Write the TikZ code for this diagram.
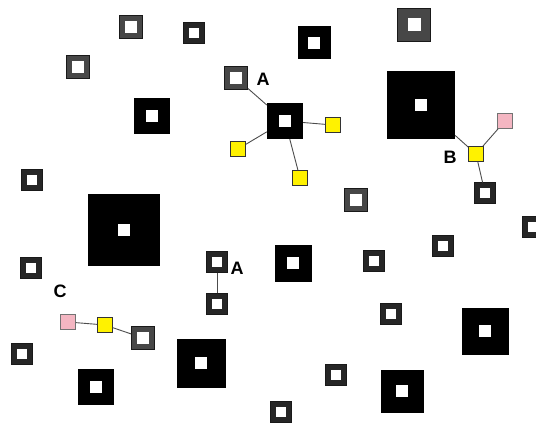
\documentclass[tikz,border=0pt]{standalone}
\usepackage{fontspec}
\setmainfont{Liberation Sans}
\usepackage{tikz}
\definecolor{rosy}{RGB}{244,182,194}

\begin{document}
\begin{tikzpicture}[x=1pt,y=-1pt,
  hole/.style={path picture={\fill[white]
    ([shift={(-#1,-#1)}]path picture bounding box.center) rectangle
    ([shift={(#1,#1)}]path picture bounding box.center);}},
  cell/.style={rectangle,inner sep=0pt,minimum size=#1,fill=black,hole=6pt},
  dcell/.style={rectangle,inner sep=0pt,minimum size=20.5pt,fill=black!85,
    draw=black!90,line width=0.6pt,hole=5pt},
  gcell/.style={rectangle,inner sep=0pt,minimum size=#1,fill=black!72,
    draw=black!90,line width=0.9pt,hole=6pt},
  ycell/.style={rectangle,inner sep=0pt,minimum size=15pt,fill=yellow,
    draw=black!80,line width=0.7pt},
  pcell/.style={rectangle,inner sep=0pt,minimum size=15pt,fill=rosy,
    draw=black!55,line width=0.7pt},
  link/.style={draw=black!70,line width=0.9pt},
  tag/.style={font=\bfseries\fontsize{18}{18}\selectfont}]
  \useasboundingbox (0,0) rectangle (536,425);
  % gray frames
  \node[gcell=23pt] (g1) at (131,27) {};
  \node[gcell=23pt] (g2) at (78,67) {};
  \node[gcell=23pt] (ga) at (236,78) {};
  \node[gcell=23pt] (g4) at (356,200) {};
  \node[gcell=23pt] (gc) at (143,338) {};
  \node[gcell=33pt,hole=6.5pt] (g6) at (414,25) {};
  % small dark frames
  \node[dcell] (d1) at (194,33) {};
  \node[dcell] (d2) at (32,180) {};
  \node[dcell] (db) at (485,193) {};
  \node[dcell] (d4) at (31,268) {};
  \node[dcell] (d5) at (22,354) {};
  \node[dcell] (dat) at (217,262) {};
  \node[dcell] (dab) at (217,304) {};
  \node[dcell] (d8) at (533,227) {};
  \node[dcell] (d9) at (443,246) {};
  \node[dcell] (d10) at (374,261) {};
  \node[dcell] (d11) at (391,314) {};
  \node[dcell] (d12) at (336,375) {};
  \node[dcell] (d13) at (281,412) {};
  % black cells
  \node[cell=33pt] (b1) at (314,43) {};
  \node[cell=36pt] (b2) at (152,116) {};
  \node[cell=36pt] (ba) at (285,121) {};
  \node[cell=68pt] (bb) at (421,105) {};
  \node[cell=72pt] (b5) at (124,230) {};
  \node[cell=37pt] (b6) at (293,263) {};
  \node[cell=36pt] (b7) at (96,387) {};
  \node[cell=49pt] (b8) at (201,363) {};
  \node[cell=47pt] (b9) at (485,331) {};
  \node[cell=43pt] (b10) at (402,391) {};
  % yellow and pink
  \node[ycell] (y1) at (238,149) {};
  \node[ycell] (y2) at (333,125) {};
  \node[ycell] (y3) at (300,178) {};
  \node[ycell] (yb) at (476,154) {};
  \node[ycell] (yc) at (105,325) {};
  \node[pcell] (pb) at (505,121) {};
  \node[pcell] (pc) at (68,322) {};
  % links
  \draw[link] (ga) -- (ba);
  \draw[link] (y1) -- (ba);
  \draw[link] (y2) -- (ba);
  \draw[link] (y3) -- (ba);
  \draw[link] (bb) -- (yb);
  \draw[link] (yb) -- (pb);
  \draw[link] (yb) -- (db);
  \draw[link] (pc) -- (yc);
  \draw[link] (yc) -- (gc);
  \draw[link] (dat) -- (dab);
  % labels
  \node[tag] (la) at (263,79) {A};
  \node[tag] (la2) at (237,268) {A};
  \node[tag] (lb) at (450,157) {B};
  \node[tag] (lc) at (60,291) {C};
\end{tikzpicture}
\end{document}
